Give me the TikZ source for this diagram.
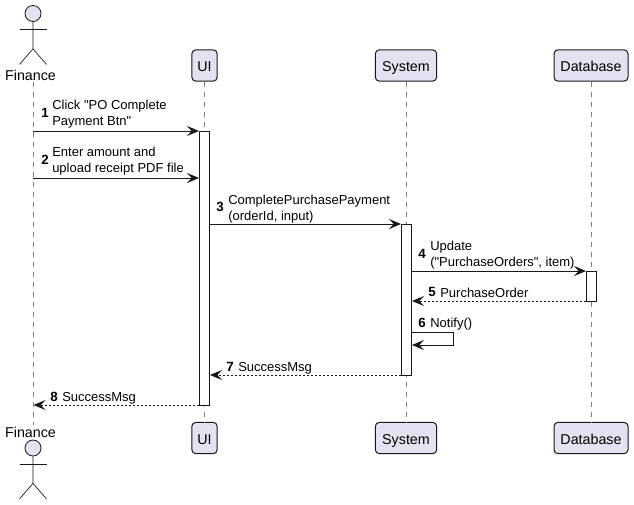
\documentclass[tikz,border=0pt]{standalone}
\usepackage{fontspec}
\setmainfont{Liberation Sans}
\newfontfamily\msgfont{Liberation Sans}
\usetikzlibrary{arrows.meta}
\definecolor{boxfill}{HTML}{E2E2F0}
\definecolor{boxline}{HTML}{181818}
\tikzset{
  Box/.style={draw=boxline, fill=boxfill, line width=.75pt, rounded corners=3pt, minimum height=23.5pt, inner sep=0pt, text height=9.3pt, text depth=0pt, font=\fontsize{10.7}{12}\selectfont},
  Name/.style={inner sep=0pt, minimum height=10.5pt, font=\fontsize{10.7}{12}\selectfont},
  Head/.style={circle, draw=boxline, fill=boxfill, line width=.6pt, minimum size=12pt, inner sep=0pt},
  Limb/.style={draw=boxline, line width=.5pt},
  Life/.style={draw=gray, line width=.6pt, dash pattern=on 3.75pt off 3.75pt},
  Bar/.style={draw=boxline, fill=white, line width=.75pt, minimum width=7.5pt, inner sep=0pt},
  Call/.style={draw=boxline, line width=.75pt, -{Stealth[inset=3.5pt,length=9pt,width=7.5pt]}},
  Back/.style={Call, dash pattern=on 1.5pt off 1.5pt},
  Msg/.style={anchor=west, align=left, inner sep=0pt, font=\msgfont\fontsize{9.75}{12}\selectfont},
  Num/.style={inner sep=0pt, font=\fontsize{10}{12}\selectfont\bfseries}
}
\begin{document}
\begin{tikzpicture}[x=.75pt, y=-.75pt]
\useasboundingbox (0,0) rectangle (634,504);
% participants
\foreach \who/\x/\boxw/\txt in {UI/204.5/19/UI,System/406/46/System,Database/591/55.5/Database}{
  \node[Box, minimum width=\boxw pt] (\who Top) at (\x,65.5) {\txt};
  \node[Box, minimum width=\boxw pt] (\who Bot) at (\x,438) {\txt};
  \draw[Life] (\who Top) -- (\who Bot);
}
% actor, top and bottom
\node[Name] (FinanceTop) at (30.5,75) {Finance};
\node[Name] (FinanceBot) at (30.5,432) {Finance};
\node[Head] (HeadTop) at (33,13.5) {};
\node[Head] (HeadBot) at (33,448) {};
\draw[Life] (FinanceTop.south -| HeadTop) -- (FinanceBot.north -| HeadTop);
\foreach \n in {HeadTop,HeadBot}{
  \draw[Limb] (\n.south) -- ++(0,27) -- ++(-13.5,15.5);
  \draw[Limb] (\n.south) ++(0,27) -- ++(13.5,15.5);
  \draw[Limb] (\n.south) ++(-13.5,7.5) -- ++(27,0);
}
% activations
\node[Bar, minimum height=205.5pt] (UIBar) at (204.5,268) {};
\node[Bar, minimum height=113.25pt] (SystemBar) at (406.5,299.5) {};
\node[Bar, minimum height=22.5pt] (DatabaseBar) at (591,286) {};
% message ends
\coordinate (From1) at (33,131);   \coordinate (To1) at (199,131);
\coordinate (From2) at (33,178);   \coordinate (To2) at (199,178);
\coordinate (From3) at (209.5,224); \coordinate (To3) at (401,224);
\coordinate (From4) at (411.5,271); \coordinate (To4) at (586,271);
\coordinate (From5) at (586,301);  \coordinate (To5) at (412,301);
\coordinate (From6) at (411.5,332); \coordinate (To6) at (412,345);
\coordinate (From7) at (401,375);  \coordinate (To7) at (210,375);
\coordinate (From8) at (199,405);  \coordinate (To8) at (33.5,405);
\foreach \i in {1,2,3,4}\draw[Call] (From\i) -- (To\i);
\foreach \i in {5,7,8}\draw[Back] (From\i) -- (To\i);
\draw[Call] (From6) -- ++(42,0) |- (To6);
% message labels
\node[Num] (Num1) at (45,113) {1};  \node[Msg] (Label1) at (52,114.5) {Click "PO Complete\\Payment Btn"};
\node[Num] (Num2) at (45,160) {2};  \node[Msg] (Label2) at (52,161) {Enter amount and\\upload receipt PDF file};
\node[Num] (Num3) at (220,206.5) {3}; \node[Msg] (Label3) at (228,209) {CompletePurchasePayment\\(orderId, input)};
\node[Num] (Num4) at (422,253.5) {4}; \node[Msg] (Label4) at (430,255) {Update\\("PurchaseOrders", item)};
\node[Num] (Num5) at (432,292) {5}; \node[Msg] (Label5) at (440,293) {PurchaseOrder};
\node[Num] (Num6) at (422,323) {6}; \node[Msg] (Label6) at (430,324.5) {Notify()};
\node[Num] (Num7) at (230,367) {7}; \node[Msg] (Label7) at (238,368) {SuccessMsg};
\node[Num] (Num8) at (54,397) {8};  \node[Msg] (Label8) at (62,398.5) {SuccessMsg};
\end{tikzpicture}
\end{document}
